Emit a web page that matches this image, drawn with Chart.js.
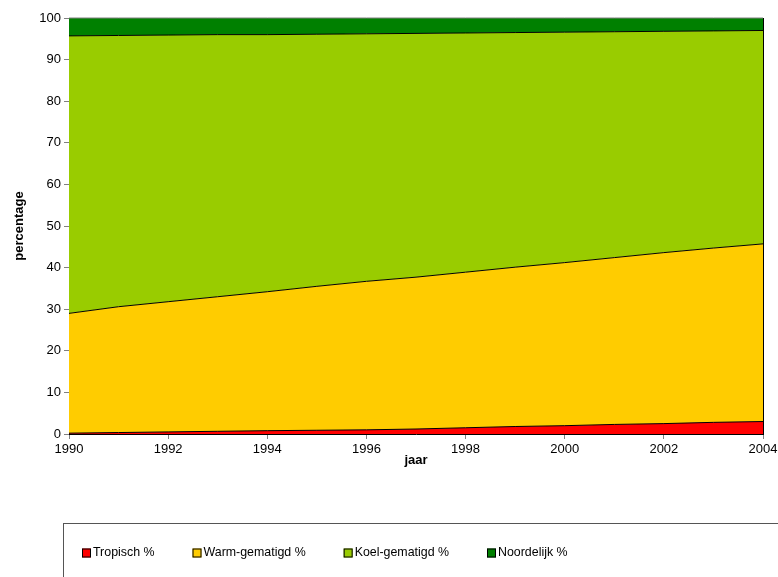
<!DOCTYPE html>
<html>
<head>
<meta charset="utf-8">
<script src="https://cdn.jsdelivr.net/npm/chart.js@4"></script>
<style>
  html, body { margin: 0; padding: 0; background: #fff; }
  #wrap { width: 778px; height: 577px; overflow: hidden; }
</style>
</head>
<body>
<div id="wrap"><canvas id="chart" width="778" height="577"></canvas></div>
<script>
// jaren
const years = [1990, 1991, 1992, 1993, 1994, 1995, 1996, 1997, 1998, 1999, 2000, 2001, 2002, 2003, 2004];

// aandeel per zone (%)
const tropisch = [0.2, 0.35, 0.5, 0.65, 0.8, 0.9, 1.0, 1.2, 1.5, 1.8, 2.0, 2.3, 2.5, 2.8, 3.0];
const warmGematigd = [28.8, 30.25, 31.3, 32.35, 33.4, 34.6, 35.7, 36.5, 37.4, 38.3, 39.2, 40.1, 41.1, 41.9, 42.7];
const koelGematigd = [66.7, 65.2, 64.1, 63.0, 61.8, 60.6, 59.5, 58.6, 57.5, 56.4, 55.4, 54.3, 53.2, 52.2, 51.3];
const noordelijk = [4.3, 4.2, 4.1, 4.0, 4.0, 3.9, 3.8, 3.7, 3.6, 3.5, 3.4, 3.3, 3.2, 3.1, 3.0];

const seriesNames = ["Tropisch %", "Warm-gematigd %", "Koel-gematigd %", "Noordelijk %"];
const seriesColors = ["#FF0000", "#FFCC00", "#99CC00", "#008000"];
const seriesData = [tropisch, warmGematigd, koelGematigd, noordelijk];

const FONT = "'Liberation Sans', Arial, sans-serif";

const datasets = seriesData.map((vals, i) => ({
  label: seriesNames[i],
  data: vals.map((v, j) => ({ x: years[j], y: v })),
  backgroundColor: seriesColors[i],
  borderColor: i === 3 ? "#808080" : "#000",
  borderWidth: 1,
  fill: i === 0 ? "origin" : "-1",
  pointRadius: 0,
  tension: 0,
  clip: false
}));

// rechterrand van het plotgebied
const frame = {
  id: "frame",
  afterDatasetsDraw(chart) {
    const { ctx, chartArea: a } = chart;
    ctx.save();
    ctx.strokeStyle = "#000";
    ctx.lineWidth = 1;
    ctx.beginPath();
    ctx.moveTo(Math.round(a.right) + 0.5, a.top);
    ctx.lineTo(Math.round(a.right) + 0.5, a.bottom);
    ctx.stroke();
    ctx.restore();
  }
};

// legenda in een kader onderaan
const boxLegend = {
  id: "boxLegend",
  afterDraw(chart) {
    const ctx = chart.ctx;
    ctx.save();
    ctx.strokeStyle = "#555";
    ctx.lineWidth = 1;
    ctx.strokeRect(63.5, 523.5, 800, 120);
    ctx.font = "12.4px " + FONT;
    ctx.textBaseline = "middle";
    let x = 82;
    const y = 553;
    chart.data.datasets.forEach(ds => {
      ctx.fillStyle = ds.backgroundColor;
      ctx.fillRect(x, y - 4.5, 9, 9);
      ctx.strokeStyle = "#000";
      ctx.strokeRect(x + 0.5, y - 4, 8, 8);
      ctx.fillStyle = "#000";
      ctx.fillText(ds.label, x + 11, y);
      x += 11 + ctx.measureText(ds.label).width + 38;
    });
    ctx.restore();
  }
};

new Chart(document.getElementById("chart"), {
  type: "line",
  data: { datasets },
  options: {
    responsive: false,
    animation: false,
    layout: { padding: { left: 8, right: 15, top: 18, bottom: 105 } },
    plugins: {
      legend: { display: false },
      tooltip: { enabled: false }
    },
    scales: {
      x: {
        type: "linear",
        min: 1990,
        max: 2004,
        grid: { drawOnChartArea: false, tickLength: 5, color: "#808080" },
        border: { color: "#000", width: 1 },
        ticks: {
          stepSize: 2, padding: 3, color: "#000", maxRotation: 0,
          font: { family: FONT, size: 13 },
          callback: v => String(v)
        },
        title: { display: true, text: "jaar", color: "#000", font: { family: FONT, size: 13, weight: "bold" } },
        afterFit(scale) {
          scale.height = 38;
          scale.paddingLeft = 0;
          scale.paddingRight = 0;
        }
      },
      y: {
        stacked: true,
        min: 0,
        max: 100,
        grid: { drawOnChartArea: false, tickLength: 5, color: "#808080" },
        border: { color: "#000", width: 1 },
        ticks: { stepSize: 10, padding: 3, color: "#000", font: { family: FONT, size: 13 } },
        title: { display: true, text: "percentage", color: "#000", font: { family: FONT, size: 13, weight: "bold" } },
        afterFit(scale) { scale.width = 61; }
      }
    }
  },
  plugins: [frame, boxLegend]
});
</script>
</body>
</html>
